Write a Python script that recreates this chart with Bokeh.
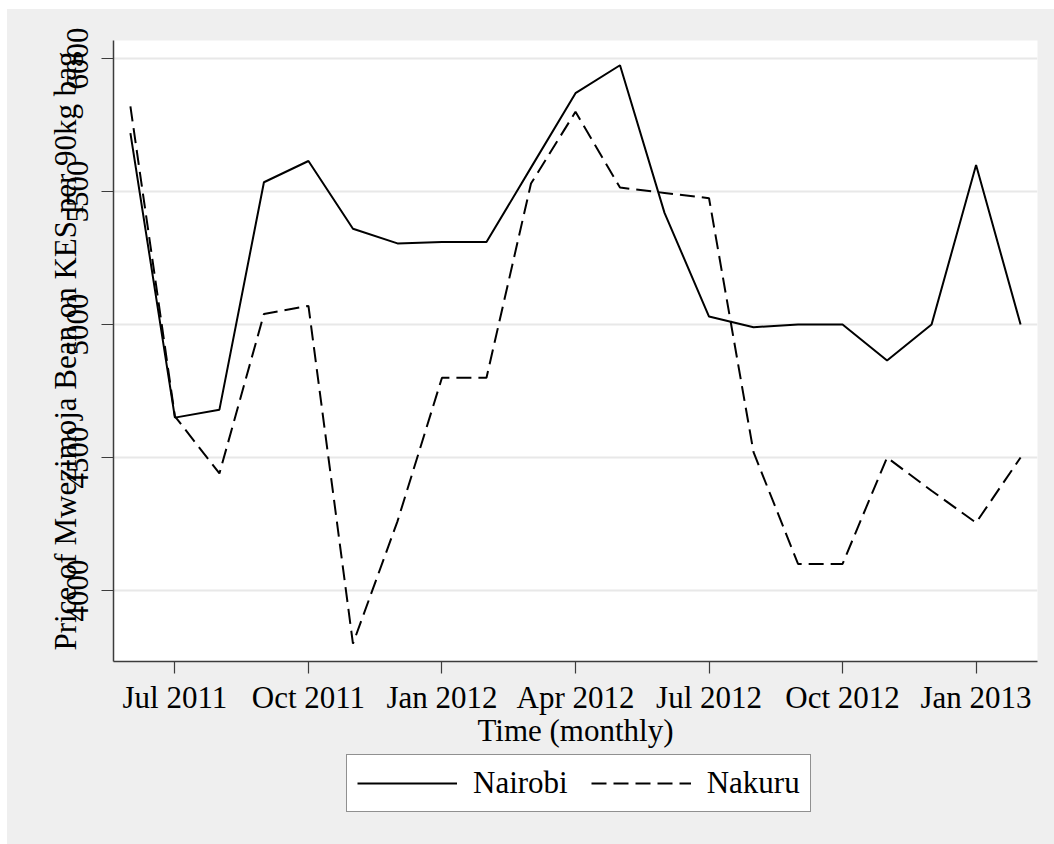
from bokeh.plotting import figure
from bokeh.layouts import column
from bokeh.models import Range1d, FixedTicker, Legend, LegendItem, ColumnDataSource
from bokeh.embed import file_html
from bokeh.resources import INLINE

# ---- data (monthly, Jun 2011 .. Feb 2013) ----
months = ["Jun 2011", "Jul 2011", "Aug 2011", "Sep 2011", "Oct 2011", "Nov 2011",
          "Dec 2011", "Jan 2012", "Feb 2012", "Mar 2012", "Apr 2012", "May 2012",
          "Jun 2012", "Jul 2012", "Aug 2012", "Sep 2012", "Oct 2012", "Nov 2012",
          "Dec 2012", "Jan 2013", "Feb 2013"]
nairobi = [5720, 4650, 4680, 5535, 5615, 5360, 5305, 5310, 5310, 5590, 5870,
           5975, 5420, 5030, 4990, 5000, 5000, 4865, 5000, 5600, 5000]
nakuru = [5820, 4655, 4440, 5040, 5070, 3800, 4260, 4800, 4800, 5530, 5800,
          5515, 5495, 5475, 4520, 4100, 4100, 4500, 4375, 4255, 4500]
tick_labels = ["Jul 2011", "Oct 2011", "Jan 2012", "Apr 2012", "Jul 2012",
               "Oct 2012", "Jan 2013"]
y_ticks = [4000, 4500, 5000, 5500, 6000]
series_names = ["Nairobi", "Nakuru"]

x_idx = list(range(len(months)))
tick_pos = [months.index(t) for t in tick_labels]

src = ColumnDataSource(dict(x=x_idx, month=months, nairobi=nairobi, nakuru=nakuru))

FONT = "Liberation Serif"
FS = "31px"
AXC = "#3c3c3c"
BG = "#efefef"
DASH = "15 7"

p = figure(frame_width=924, frame_height=621, output_backend="svg", toolbar_location=None,
           x_range=Range1d(-0.38, len(months) - 1 + 0.38),
           y_range=Range1d(3733, 6068),
           min_border_left=106, min_border_right=17, min_border_top=31,
           min_border_bottom=90)
p.border_fill_color = BG
p.background_fill_color = "white"
p.outline_line_color = None

r1 = p.line("x", "nairobi", source=src, line_color="black", line_width=2)
r2 = p.line("x", "nakuru", source=src, line_color="black", line_width=2,
            line_dash=DASH)

# x axis
xa = p.xaxis[0]
xa.ticker = FixedTicker(ticks=tick_pos)
xa.major_label_overrides = {pos: lab for pos, lab in zip(tick_pos, tick_labels)}
xa.axis_label = "Time (monthly)"
xa.minor_tick_line_color = None

# y axis
ya = p.yaxis[0]
ya.ticker = FixedTicker(ticks=y_ticks)
ya.axis_label = "Price of Mwezimoja Bean on KES per 90kg bag"
ya.minor_tick_line_color = None
ya.major_label_orientation = "vertical"

for ax in (xa, ya):
    ax.axis_line_color = AXC
    ax.axis_line_width = 1.5
    ax.major_tick_line_color = AXC
    ax.major_tick_line_width = 1.2
    ax.major_tick_in = 0
    ax.major_tick_out = 12
    ax.major_label_text_font = FONT
    ax.major_label_text_font_size = FS
    ax.major_label_text_color = "black"
    ax.axis_label_text_font = FONT
    ax.axis_label_text_font_size = FS
    ax.axis_label_text_font_style = "normal"
    ax.axis_label_text_color = "black"

xa.major_label_standoff = 6
xa.axis_label_standoff = -5
ya.major_label_standoff = 13
ya.axis_label_standoff = -18

p.xgrid.grid_line_color = None
p.ygrid.grid_line_color = "#e8e8e8"
p.ygrid.grid_line_width = 2

# ---- legend strip below the chart ----
pl = figure(width=1047, height=93, output_backend="svg", toolbar_location=None,
            x_range=Range1d(0, 1), y_range=Range1d(0, 1),
            x_axis_location=None, y_axis_location=None,
            min_border_left=106, min_border_right=0, min_border_top=0,
            min_border_bottom=0)
pl.border_fill_color = BG
pl.background_fill_color = BG
pl.outline_line_color = None
for g in pl.grid:
    g.visible = False
# legend keys (drawn off-frame so only the legend shows them)
l1 = pl.line(x=[-5, -4], y=[-5, -5], line_color="black", line_width=2)
l2 = pl.line(x=[-5, -4], y=[-5, -5], line_color="black", line_width=2, line_dash=DASH)

legend = Legend(items=[LegendItem(label=series_names[0], renderers=[l1]),
                       LegendItem(label=series_names[1], renderers=[l2])],
                orientation="horizontal", location=(233, 32))
legend.label_text_font = FONT
legend.label_text_font_size = FS
legend.label_text_color = "black"
legend.glyph_width = 100
legend.glyph_height = 30
legend.label_standoff = 16
legend.spacing = 23
legend.padding = 10
legend.margin = 0
legend.border_line_color = "#222222"
legend.border_line_width = 1.5
legend.background_fill_color = "white"
legend.background_fill_alpha = 1
pl.add_layout(legend, "center")

lay = column(p, pl, spacing=0, margin=(9, 0, 0, 7),
             styles={"background-color": BG})

open("out.html", "w").write(file_html(lay, INLINE))
